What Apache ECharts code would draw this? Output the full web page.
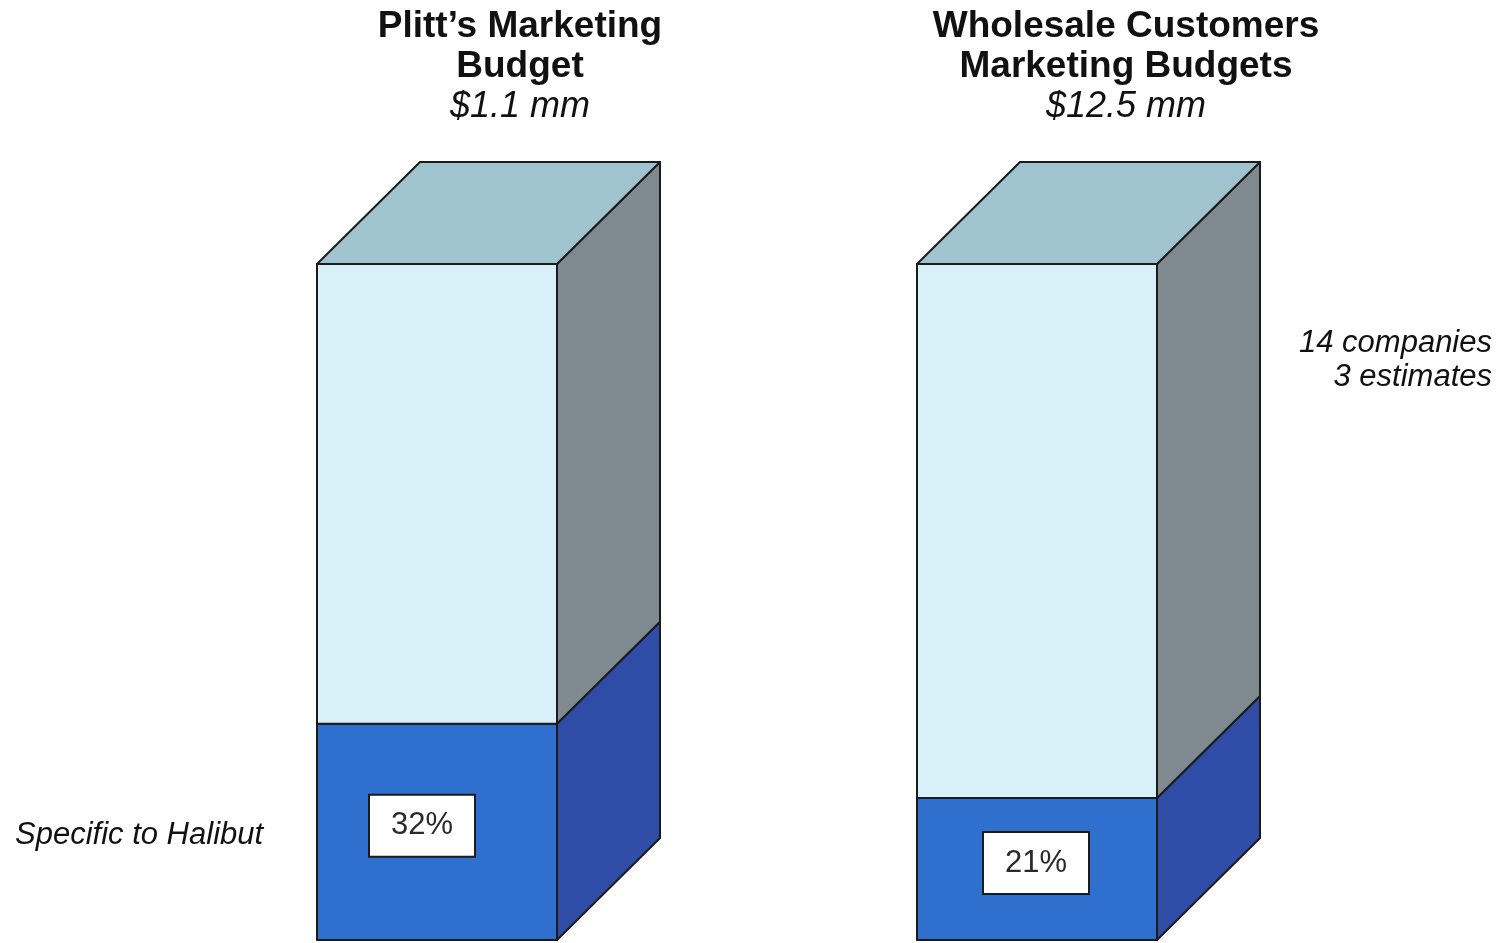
<!DOCTYPE html>
<html>
<head>
<meta charset="utf-8">
<script src="https://cdn.jsdelivr.net/npm/echarts@6/dist/echarts.min.js"></script>
<style>
  html, body { margin: 0; padding: 0; background: #fff; }
  #main { width: 1502px; height: 943px; }
</style>
</head>
<body>
<div id="main"></div>
<script>
// data
var categories = ['Plitt', 'Wholesale'];
var specificPct = [32, 21];           // share specific to Halibut
var otherPct = [68, 79];              // remainder
var pctLabels = ['32%', '21%'];
var titleLines = [
  ['Plitt\u2019s Marketing', 'Budget', '$1.1 mm'],
  ['Wholesale Customers', 'Marketing Budgets', '$12.5 mm']
];

var DX = 103, DY = -102;   // depth offset of the box
var FONT = '"Liberation Sans", Arial, sans-serif';

// segments: [catIndex, start, end, kind]
var segs = [];
for (var i = 0; i < categories.length; i++) {
  segs.push([i, 0, specificPct[i], 0]);
  segs.push([i, specificPct[i], specificPct[i] + otherPct[i], 1]);
}

var faceColors = [
  { front: '#2f70cf', side: '#2f4da6', top: '#3b62c0' },
  { front: '#d8f1f9', side: '#7f8a90', top: '#9fc4cf' }
];

function renderItem(params, api) {
  var ci = api.value(0);
  var p0 = api.coord([ci, api.value(1)]);
  var p1 = api.coord([ci, api.value(2)]);
  var kind = api.value(3);
  var w = api.size([1, 0])[0] * 0.4;
  var xl = p0[0] - w / 2, xr = p0[0] + w / 2;
  var yb = p0[1], yt = p1[1];
  var c = faceColors[kind];
  var line = { stroke: '#1b1b1b', lineWidth: 2, lineJoin: 'round' };
  var kids = [
    { type: 'polygon', shape: { points: [[xl, yt], [xr, yt], [xr, yb], [xl, yb]] },
      style: Object.assign({ fill: c.front }, line) },
    { type: 'polygon', shape: { points: [[xr, yt], [xr + DX, yt + DY], [xr + DX, yb + DY], [xr, yb]] },
      style: Object.assign({ fill: c.side }, line) }
  ];
  if (kind === 1) {
    kids.push({ type: 'polygon', shape: { points: [[xl, yt], [xl + DX, yt + DY], [xr + DX, yt + DY], [xr, yt]] },
      style: Object.assign({ fill: c.top }, line) });
  } else {
    var cx = (xl + xr) / 2 - (ci === 0 ? 15 : 1), cy = (yt + yb) / 2 - 6;
    kids.push({ type: 'rect', shape: { x: cx - 53, y: cy - 31, width: 106, height: 62 },
      style: { fill: '#ffffff', stroke: '#1b1b1b', lineWidth: 2 } });
    kids.push({ type: 'text', x: cx, y: cy,
      style: { text: pctLabels[ci], fill: '#2a2a2a', font: '31px ' + FONT,
        align: 'center', verticalAlign: 'middle' } });
  }
  return { type: 'group', children: kids };
}

var graphics = [];
var titleX = [520, 1126];
for (var t = 0; t < titleLines.length; t++) {
  for (var k = 0; k < 3; k++) {
    graphics.push({
      type: 'text', x: titleX[t], y: 27 + k * 40,
      style: {
        text: titleLines[t][k], fill: '#111',
        font: (k < 2 ? 'bold 37px ' : 'italic 36px ') + FONT,
        align: 'center', verticalAlign: 'middle'
      }
    });
  }
}
var sideFont = 'italic 31px ' + FONT;
graphics.push({ type: 'text', x: 15, y: 835,
  style: { text: 'Specific to Halibut', fill: '#111', font: sideFont, align: 'left', verticalAlign: 'middle' } });
graphics.push({ type: 'text', x: 1492, y: 343,
  style: { text: '14 companies', fill: '#111', font: sideFont, align: 'right', verticalAlign: 'middle' } });
graphics.push({ type: 'text', x: 1492, y: 377,
  style: { text: '3 estimates', fill: '#111', font: sideFont, align: 'right', verticalAlign: 'middle' } });

var chart = echarts.init(document.getElementById('main'));
chart.setOption({
  backgroundColor: '#ffffff',
  animation: false,
  grid: { left: 137, right: 165, top: 264, bottom: 3 },
  xAxis: { type: 'category', data: categories, show: false },
  yAxis: { type: 'value', min: 0, max: 100, show: false },
  graphic: graphics,
  series: [{
    type: 'custom',
    renderItem: renderItem,
    encode: { x: 0, y: 2 },
    data: segs,
    silent: true
  }]
});
</script>
</body>
</html>
